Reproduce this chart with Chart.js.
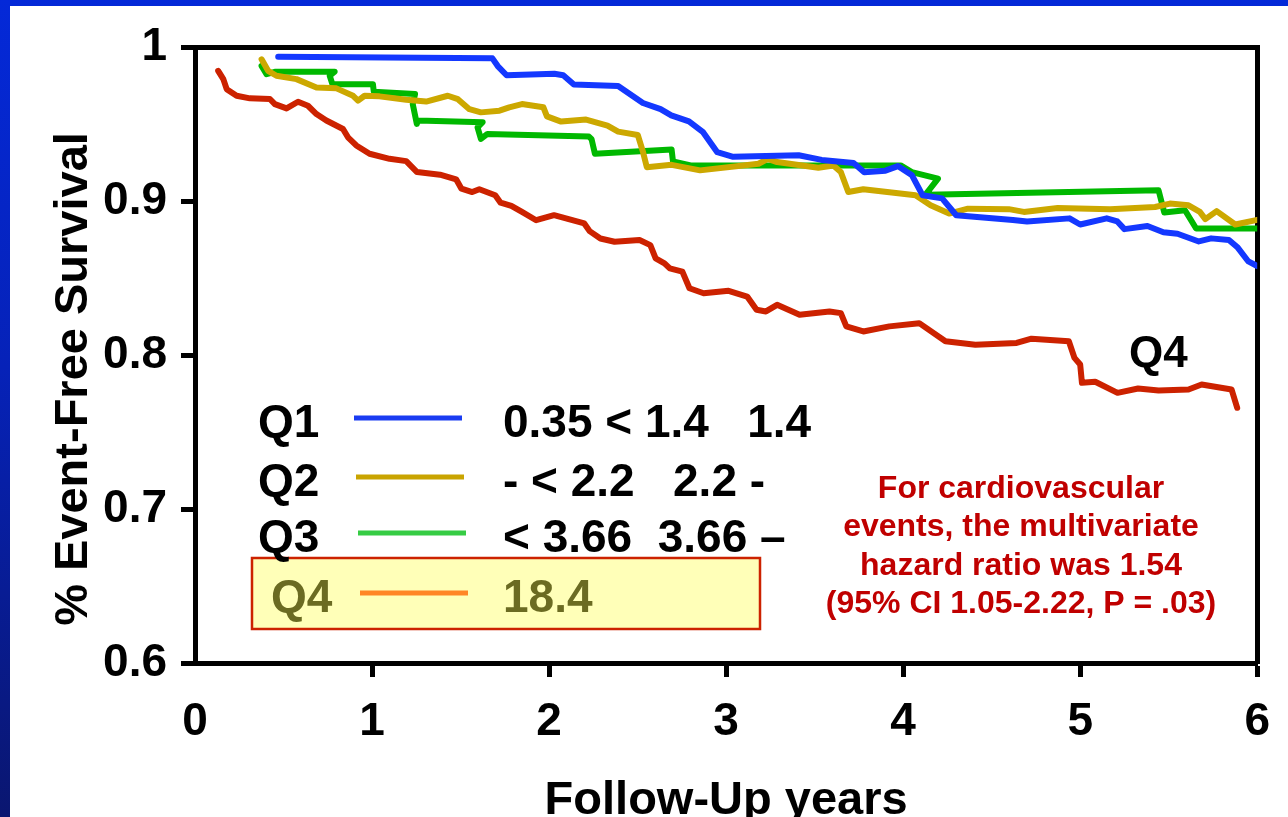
<!DOCTYPE html>
<html>
<head>
<meta charset="utf-8">
<title>Event-free survival by quartile</title>
<script src="https://cdn.jsdelivr.net/npm/chart.js@4.4.1/dist/chart.umd.min.js"></script>
<style>
  html, body { margin: 0; padding: 0; }
  body {
    width: 1288px; height: 817px; overflow: hidden; position: relative;
    background: linear-gradient(to bottom, #0429d8 0%, #0622b8 45%, #0a1670 100%);
  }
  #wrap { position: absolute; left: 10px; top: 6px; width: 1278px; height: 811px; background: #fff; }
  canvas { display: block; }
</style>
</head>
<body>
<div id="wrap"><canvas id="km" width="1278" height="811"></canvas></div>
<script>
const FONT = '"Liberation Sans", Arial, Helvetica, sans-serif';

// axis ticks
const xTickValues = [0, 1, 2, 3, 4, 5, 6];
const xTickLabels = ['0', '1', '2', '3', '4', '5', '6'];
const yTickValues = [0.6, 0.7, 0.8, 0.9, 1];
const yTickLabels = ['0.6', '0.7', '0.8', '0.9', '1'];

// Q1 (blue)
const q1Years = [0.47, 1.68, 1.71, 1.76, 2.03, 2.08, 2.14, 2.39, 2.53, 2.63, 2.69, 2.79, 2.87, 2.95, 3.04,
  3.41, 3.54, 3.72, 3.78, 3.90, 3.97, 4.05, 4.11, 4.22, 4.30, 4.62, 4.70, 4.94, 5.00, 5.15, 5.21, 5.25,
  5.38, 5.47, 5.55, 5.67, 5.74, 5.84, 5.89, 5.95, 6.0];
const q1Survival = [0.994, 0.993, 0.988, 0.982, 0.983, 0.982, 0.976, 0.975, 0.964, 0.960, 0.956, 0.952, 0.945, 0.932, 0.929,
  0.930, 0.927, 0.925, 0.919, 0.920, 0.923, 0.917, 0.904, 0.902, 0.891, 0.888, 0.887, 0.889, 0.885, 0.889, 0.887, 0.882,
  0.884, 0.880, 0.879, 0.874, 0.876, 0.875, 0.870, 0.861, 0.858];

// Q2 (gold)
const q2Years = [0.376, 0.413, 0.46, 0.573, 0.686, 0.799, 0.893, 0.921, 0.958, 1.042, 1.193, 1.306, 1.428, 1.485,
  1.55, 1.615, 1.72, 1.775, 1.847, 1.968, 1.988, 2.068, 2.209, 2.33, 2.39, 2.501, 2.531, 2.552, 2.692, 2.853,
  3.183, 3.236, 3.288, 3.521, 3.606, 3.648, 3.69, 3.775, 4.07, 4.155, 4.26, 4.366, 4.597, 4.682, 4.873,
  5.169, 5.423, 5.507, 5.612, 5.676, 5.707, 5.771, 5.876, 6.0];
const q2Survival = [0.9924, 0.9849, 0.9817, 0.9795, 0.9741, 0.9735, 0.9687, 0.9655, 0.9687, 0.9683, 0.9661, 0.9649, 0.9687, 0.9665,
  0.960, 0.9579, 0.959, 0.9612, 0.9633, 0.9612, 0.9553, 0.9519, 0.9532, 0.9493, 0.9454, 0.9432, 0.932, 0.9223, 0.9238, 0.9202,
  0.9245, 0.9277, 0.9256, 0.9219, 0.9234, 0.9191, 0.9061, 0.9079, 0.904, 0.8975, 0.8921, 0.8953, 0.895, 0.8932, 0.8958,
  0.895, 0.8964, 0.8986, 0.8975, 0.8932, 0.8885, 0.8937, 0.885, 0.888];

// Q3 (green)
const q3Years = [0.376, 0.404, 0.451, 0.789, 0.761, 0.776, 1.005, 1.010, 1.243, 1.230, 1.253, 1.258, 1.625, 1.596,
  1.615, 1.652, 2.225, 2.240, 2.259, 2.692, 2.70, 2.80, 3.986, 4.049, 4.197, 4.123, 4.134, 5.443, 5.475, 5.592,
  5.655, 6.0];
const q3Survival = [0.9881, 0.9827, 0.9843, 0.9843, 0.9817, 0.9762, 0.9762, 0.9713, 0.9698, 0.9633, 0.9504, 0.9526, 0.9515, 0.9482,
  0.9407, 0.9439, 0.9422, 0.9405, 0.9310, 0.9338, 0.926, 0.9234, 0.9234, 0.9191, 0.9148, 0.904, 0.9044, 0.9072, 0.8928, 0.8943,
  0.8824, 0.8824];

// Q4 (red)
const q4Years = [0.131, 0.16, 0.179, 0.235, 0.31, 0.423, 0.451, 0.517, 0.582, 0.638, 0.686, 0.742, 0.836, 0.864,
  0.911, 0.986, 1.099, 1.193, 1.254, 1.384, 1.475, 1.505, 1.566, 1.606, 1.696, 1.726, 1.787, 1.847, 1.927,
  2.028, 2.199, 2.229, 2.29, 2.37, 2.511, 2.572, 2.602, 2.652, 2.682, 2.753, 2.793, 2.873, 3.014, 3.119,
  3.172, 3.225, 3.288, 3.415, 3.584, 3.648, 3.679, 3.775, 3.922, 4.091, 4.239, 4.408, 4.641, 4.725, 4.936,
  4.968, 5.0, 5.01, 5.085, 5.211, 5.327, 5.443, 5.612, 5.686, 5.855, 5.887];
const q4Survival = [0.9849, 0.9795, 0.973, 0.9687, 0.967, 0.9666, 0.9633, 0.9605, 0.9648, 0.9622, 0.9568, 0.9526, 0.9471, 0.9417,
  0.9364, 0.931, 0.9277, 0.9262, 0.9191, 0.9174, 0.9144, 0.9083, 0.9061, 0.9079, 0.904, 0.8992, 0.8971, 0.8932, 0.8878,
  0.8911, 0.8857, 0.8807, 0.8759, 0.8738, 0.8749, 0.8716, 0.863, 0.8598, 0.8565, 0.8544, 0.8436, 0.8403, 0.8419, 0.8382,
  0.8296, 0.8285, 0.8328, 0.8263, 0.8285, 0.8274, 0.8188, 0.8155, 0.8188, 0.8209, 0.8091, 0.8069, 0.808, 0.8108, 0.8091,
  0.7983, 0.794, 0.7821, 0.7828, 0.7756, 0.7784, 0.7771, 0.7778, 0.781, 0.7778, 0.7659];

// legend block + note
const legendNames = ['Q1', 'Q2', 'Q3', 'Q4'];
const legendRanges = ['0.35 < 1.4   1.4', '- < 2.2   2.2 -', '< 3.66  3.66 \u2013', '18.4'];
const legendColors = ['#1a3cf2', '#c9a400', '#36cc44', '#ff8626'];
const noteLines = ['For cardiovascular', 'events, the multivariate', 'hazard ratio was 1.54', '(95% CI 1.05-2.22, P = .03)'];

function series(label, xs, ys, color) {
  return {
    label,
    data: xs.map((x, i) => ({ x, y: ys[i] })),
    borderColor: color,
    borderWidth: 6,
    xAxisID: 'x',
    yAxisID: 'y'
  };
}

// draws legend box, note text, Q4 tag and the y title
const overlay = {
  id: 'overlay',
  afterDraw(chart) {
    const ctx = chart.ctx;
    ctx.save();

    // highlighted Q4 row
    ctx.fillStyle = '#ffffb8';
    ctx.fillRect(242, 552, 508, 71);
    ctx.strokeStyle = '#cc2200';
    ctx.lineWidth = 2.5;
    ctx.strokeRect(242, 552, 508, 71);

    const rowY = [431, 490, 546, 606];
    ctx.font = 'bold 46px ' + FONT;
    ctx.textBaseline = 'alphabetic';
    ctx.textAlign = 'left';
    legendNames.forEach((name, i) => {
      const hi = i === 3;
      ctx.fillStyle = hi ? '#6b6b22' : '#000';
      ctx.fillText(name, hi ? 261 : 248, rowY[i]);
      ctx.fillText(legendRanges[i], 493, rowY[i]);
      ctx.strokeStyle = legendColors[i];
      ctx.lineWidth = 5;
      ctx.beginPath();
      ctx.moveTo(344 + i * 2, rowY[i] - 19);
      ctx.lineTo(452 + i * 2, rowY[i] - 19);
      ctx.stroke();
    });

    // Q4 tag beside the red curve
    ctx.fillStyle = '#000';
    ctx.font = 'bold 44px ' + FONT;
    ctx.fillText('Q4', 1119, 361);

    // hazard ratio note
    ctx.fillStyle = '#c00000';
    ctx.font = 'bold 32px ' + FONT;
    ctx.textAlign = 'center';
    noteLines.forEach((line, i) => ctx.fillText(line, 1011, 492 + i * 38.3));

    // y axis title
    ctx.translate(64, 373);
    ctx.rotate(-Math.PI / 2);
    ctx.fillStyle = '#000';
    ctx.font = 'bold 47px ' + FONT;
    ctx.textBaseline = 'middle';
    ctx.fillText('% Event-Free Survival', 0, 0);
    ctx.restore();
  }
};

const tickFont = { family: FONT, size: 46, weight: 'bold' };

new Chart(document.getElementById('km'), {
  type: 'line',
  data: {
    datasets: [
      series('Q1', q1Years, q1Survival, '#1438ff'),
      series('Q2', q2Years, q2Survival, '#cca800'),
      series('Q3', q3Years, q3Survival, '#00b800'),
      series('Q4', q4Years, q4Survival, '#cc2200')
    ]
  },
  options: {
    responsive: false,
    animation: false,
    layout: { padding: { top: 39, right: 29, left: 0, bottom: 0 } },
    elements: {
      point: { radius: 0 },
      line: { tension: 0, borderWidth: 6, borderJoinStyle: 'round', borderCapStyle: 'round' }
    },
    plugins: { legend: { display: false }, tooltip: { enabled: false } },
    scales: {
      x: {
        type: 'linear', position: 'bottom', min: 0, max: 6,
        afterBuildTicks: s => { s.ticks = xTickValues.map(v => ({ value: v })); },
        afterFit: s => { s.height = 154; },
        ticks: { color: '#000', font: tickFont, padding: 18, maxRotation: 0, autoSkip: false,
                 callback: (v, i) => xTickLabels[i] },
        grid: { drawOnChartArea: false, tickLength: 14, tickWidth: 5,
                tickColor: c => (c.tick && c.tick.value === 0) ? 'rgba(0,0,0,0)' : '#000' },
        border: { display: true, color: '#000', width: 5 },
        title: { display: true, text: 'Follow-Up years', color: '#000', padding: 0,
                 font: { family: FONT, size: 47, weight: 'bold', lineHeight: 0.7 } }
      },
      y: {
        type: 'linear', position: 'left', min: 0.6, max: 1,
        afterBuildTicks: s => { s.ticks = yTickValues.map(v => ({ value: v })); },
        afterFit: s => { s.width = 185; },
        ticks: { color: '#000', font: tickFont, padding: 14, callback: (v, i) => yTickLabels[i] },
        grid: { drawOnChartArea: false, tickLength: 14, tickWidth: 5, tickColor: '#000' },
        border: { display: true, color: '#000', width: 5 }
      },
      x2: {
        type: 'linear', position: 'top', min: 0, max: 6,
        afterFit: s => { s.height = 0; },
        ticks: { display: false },
        grid: { display: false, drawTicks: false },
        border: { display: true, color: '#000', width: 5 }
      },
      y2: {
        type: 'linear', position: 'right', min: 0.6, max: 1,
        afterFit: s => { s.width = 0; },
        ticks: { display: false },
        grid: { display: false, drawTicks: false },
        border: { display: true, color: '#000', width: 5 }
      }
    }
  },
  plugins: [overlay]
});
</script>
</body>
</html>
